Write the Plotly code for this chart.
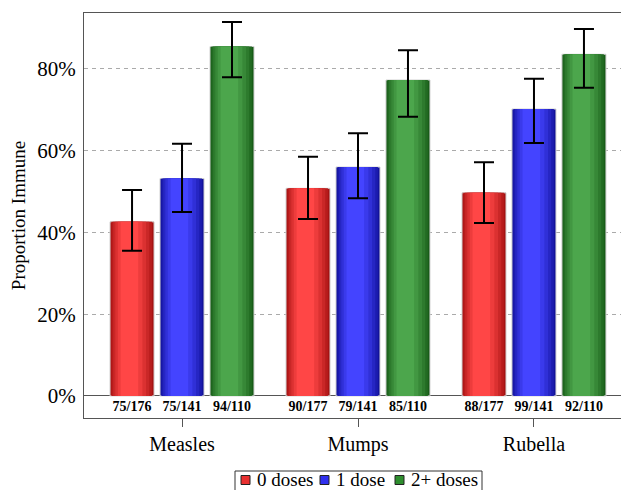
import plotly.graph_objects as go

# ---- data ----
categories = ["Measles", "Mumps", "Rubella"]
series_names = ["0 doses", "1 dose", "2+ doses"]
proportion = {
    "0 doses": [0.426, 0.508, 0.497],
    "1 dose": [0.532, 0.560, 0.702],
    "2+ doses": [0.855, 0.773, 0.836],
}
ci_lower = {
    "0 doses": [0.355, 0.433, 0.423],
    "1 dose": [0.450, 0.484, 0.619],
    "2+ doses": [0.780, 0.683, 0.754],
}
ci_upper = {
    "0 doses": [0.504, 0.585, 0.572],
    "1 dose": [0.617, 0.643, 0.776],
    "2+ doses": [0.915, 0.846, 0.898],
}
count_labels = {
    "0 doses": ["75/176", "90/177", "88/177"],
    "1 dose": ["75/141", "79/141", "99/141"],
    "2+ doses": ["94/110", "85/110", "92/110"],
}
y_ticks = [0, 0.2, 0.4, 0.6, 0.8]

# ---- styles ----
offsets = {"0 doses": -0.284, "1 dose": 0.0, "2+ doses": 0.284}
bar_w = 0.25
edge_col = {"0 doses": (165, 18, 18), "1 dose": (18, 18, 155), "2+ doses": (24, 92, 24)}
center_col = {"0 doses": (255, 70, 70), "1 dose": (68, 68, 255), "2+ doses": (76, 166, 76)}
legend_col = {"0 doses": "#e83030", "1 dose": "#3030ee", "2+ doses": "#2e8e2e"}
layer_fracs = [1.0, 0.92, 0.82, 0.7, 0.56, 0.4]
FONT = "Liberation Serif, Times New Roman, serif"

W, H = 629, 490
# plot area in figure pixels (page is offset by the 8px body margin)
PL, PR, PT, PB = 76, 624, 5, 410


def px2x(px):
    return (px - PL) / (PR - PL)


def px2y(py):
    return (PB - py) / (PB - PT)


fig = go.Figure()

for s in series_names:
    xs = [i + offsets[s] for i in range(len(categories))]
    n = len(layer_fracs)
    for k, frac in enumerate(layer_fracs):
        t = k / (n - 1)
        c0, c1 = edge_col[s], center_col[s]
        col = "rgb(%d,%d,%d)" % tuple(round(a + (b - a) * t) for a, b in zip(c0, c1))
        shift = -0.025 * (1 - frac)
        fig.add_trace(go.Bar(
            x=[x + shift for x in xs], y=proportion[s], width=bar_w * frac,
            marker=dict(color=col,
                        line=dict(color="#d0d0d0" if k == 0 else col, width=1 if k == 0 else 0)),
            showlegend=False, hoverinfo="skip"))

# error bars
for s in series_names:
    xs = [i + offsets[s] for i in range(len(categories))]
    fig.add_trace(go.Scatter(
        x=xs, y=proportion[s], mode="markers", marker=dict(opacity=0, size=1),
        error_y=dict(type="data", symmetric=False,
                     array=[u - v for u, v in zip(ci_upper[s], proportion[s])],
                     arrayminus=[v - l for v, l in zip(proportion[s], ci_lower[s])],
                     color="black", thickness=2, width=10),
        showlegend=False, hoverinfo="skip"))

# count labels in band below zero
for s in series_names:
    xs = [i + offsets[s] for i in range(len(categories))]
    fig.add_trace(go.Scatter(
        x=xs, y=[-0.028] * len(xs), mode="text", text=count_labels[s],
        textfont=dict(family=FONT, size=14, color="black", weight="bold"),
        showlegend=False, hoverinfo="skip"))

# ---- manual legend (figure pixel positions) ----
leg_size = 19
sq_left = {"0 doses": 233, "1 dose": 312, "2+ doses": 387}
txt_left = {"0 doses": 247, "1 dose": 326, "2+ doses": 401}
yc = 472
shapes = []
annotations = []
for s in series_names:
    shapes.append(dict(type="rect", xref="paper", yref="paper",
                       x0=px2x(sq_left[s]), x1=px2x(sq_left[s] + 9),
                       y0=px2y(yc + 4.5), y1=px2y(yc - 4.5),
                       fillcolor=legend_col[s], line=dict(color="#222", width=1)))
    annotations.append(dict(text=s, xref="paper", yref="paper", x=px2x(txt_left[s]), y=px2y(yc),
                            xanchor="left", yanchor="middle", showarrow=False,
                            font=dict(family=FONT, size=leg_size, color="black")))
shapes.append(dict(type="rect", xref="paper", yref="paper",
                   x0=px2x(227), x1=px2x(474), y0=px2y(488), y1=px2y(463),
                   fillcolor="rgba(0,0,0,0)", line=dict(color="#333", width=1)))

fig.update_layout(
    width=W, height=H,
    margin=dict(l=PL, r=W - PR, t=PT, b=H - PB, autoexpand=False),
    barmode="overlay",
    showlegend=False,
    plot_bgcolor="white", paper_bgcolor="white",
    font=dict(family=FONT, color="black"),
    shapes=shapes, annotations=annotations,
    xaxis=dict(range=[-0.557, 2.557], tickvals=[0, 1, 2], ticktext=categories,
               showline=True, linecolor="#555", linewidth=1, mirror=True,
               ticks="outside", ticklen=8, tickcolor="#555", ticklabelstandoff=0,
               showgrid=False, zeroline=False, automargin=False,
               tickfont=dict(family=FONT, size=20)),
    yaxis=dict(range=[-0.054, 0.937], tickvals=y_ticks, tickformat=".0%",
               showline=True, linecolor="#555", linewidth=1, mirror=True,
               ticks="", ticklabelstandoff=3, automargin=False,
               showgrid=True, gridcolor="#aaaaaa", griddash="4px,4px",
               zeroline=True, zerolinecolor="#555", zerolinewidth=1,
               tickfont=dict(family=FONT, size=21),
               title=dict(text="Proportion Immune", font=dict(family=FONT, size=19), standoff=8)),
)

fig.write_html("out.html")
